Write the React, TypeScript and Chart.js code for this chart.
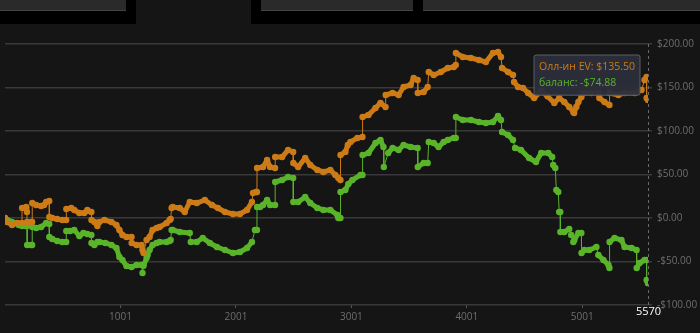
import React, { useEffect, useRef } from "react";
import { Chart, registerables, Tooltip } from "chart.js";

Chart.register(...registerables);

const SERIES_LABELS = ["Олл-ин EV", "баланс"];
const X_TICKS = [1001, 2001, 3001, 4001, 5001];
const X_MIN = 1;
const X_MAX = 5570;
const Y_MIN = -100;
const Y_MAX = 200;
const Y_STEP = 50;

const evHands = [
  1, 18, 62, 105, 148, 149, 184, 191, 192, 227, 236, 237, 271, 314, 340, 358, 384, 385, 410, 453, 497, 531, 532, 575, 601,
  645, 688, 714, 749, 750, 775, 801, 818, 862, 923, 966, 992, 1018, 1053, 1097, 1098, 1140, 1184, 1192, 1201, 1227, 1253,
  1279, 1314, 1340, 1401, 1427, 1436, 1444, 1453, 1514, 1558, 1601, 1662, 1732, 1793, 1845, 1906, 1975, 2036, 2097, 2140,
  2149, 2175, 2183, 2184, 2236, 2271, 2297, 2340, 2341, 2401, 2453, 2497, 2498, 2540, 2601, 2645, 2706, 2758, 2819, 2862,
  2888, 2906, 2907, 2949, 2970, 2993, 3053, 3097, 3098, 3149, 3210, 3253, 3297, 3298, 3358, 3410, 3453, 3514, 3540, 3575,
  3576, 3627, 3662, 3671, 3714, 3775, 3836, 3888, 3905, 3906, 3966, 4036, 4105, 4166, 4227, 4271, 4297, 4306, 4358, 4401,
  4410, 4445, 4488, 4532, 4584, 4645, 4700, 4758, 4801, 4845, 4888, 4923, 4930, 4949, 4967, 4993, 5010, 5080, 5140, 5149,
  5193, 5236, 5237, 5314, 5367, 5454, 5514, 5540, 5557, 5558, 5570,
];
const evValues = [
  0, -4.6, -8.0, -5.7, -5.7, 11.5, 12.6, 6.9, -4.6, -4.6, -4.6, 17.2, 14.9, 13.8, 14.9, 18.4, 19.5, 1.1, 0, -1.1, -2.3,
  -2.3, 10.3, 11.5, 9.2, 5.7, 5.7, 9.2, 6.9, -2.3, -4.6, -9.2, -4.6, -2.3, -4.6, -8.0, -13.8, -19.5, -21.8, -21.8, -28.7,
  -31, -31, -36.8, -40.2, -25.3, -21.8, -13.8, -11.5, -10.3, -5.7, -2.3, -1.1, 11.5, 12.6, 11.5, 6.9, 18.4, 17.2, 20.7,
  14.9, 11.5, 6.9, 4.6, 4.6, 9.2, 18.4, 28.7, 29.9, 29.9, 57.5, 58.6, 66.7, 58.6, 57.5, 70.1, 70.1, 78.2, 75.9, 63.2,
  58.6, 69, 60.9, 55.2, 52.9, 55.2, 49.4, 46, 43.7, 72.4, 76, 84, 87.4, 92, 93.1, 116.1, 118.4, 126.4, 132.2, 127.6,
  141.4, 143.7, 141.4, 150.6, 152.9, 160.9, 158.6, 143.7, 144.8, 150.6, 167.8, 164.4, 167.8, 172.4, 173.6, 175.9, 189.7,
  185.1, 183.9, 181.6, 179.3, 189.7, 190.8, 185.1, 172.4, 167.8, 164.4, 156.3, 150.6, 149.4, 143.7, 137.9, 146, 140,
  132.2, 137.9, 133.3, 127.6, 121.8, 120.7, 127.6, 133.3, 139.1, 143.7, 143.7, 143.7, 137.9, 133.3, 129.9, 143.7, 141.4,
  143.7, 143.7, 147.1, 158.6, 162.1, 137.9, 135.5,
];

const balHands = [
  1, 62, 120, 149, 175, 192, 193, 227, 236, 237, 271, 314, 358, 384, 385, 410, 453, 497, 531, 532, 566, 601, 645, 680,
  714, 749, 750, 775, 801, 818, 870, 923, 966, 992, 1018, 1053, 1097, 1140, 1184, 1192, 1201, 1227, 1236, 1253, 1279,
  1314, 1340, 1401, 1427, 1436, 1444, 1453, 1514, 1601, 1610, 1662, 1714, 1775, 1836, 1906, 1975, 2036, 2097, 2140, 2166,
  2183, 2184, 2210, 2236, 2271, 2297, 2340, 2341, 2401, 2453, 2497, 2498, 2540, 2601, 2645, 2706, 2758, 2819, 2880, 2888,
  2906, 2907, 2949, 2975, 3010, 3080, 3097, 3098, 3149, 3210, 3253, 3279, 3282, 3320, 3358, 3410, 3453, 3514, 3575, 3576,
  3627, 3662, 3671, 3714, 3756, 3800, 3836, 3888, 3905, 3906, 3966, 4036, 4105, 4166, 4227, 4271, 4297, 4306, 4358, 4401,
  4419, 4470, 4540, 4600, 4645, 4706, 4740, 4749, 4767, 4776, 4793, 4801, 4810, 4811, 4845, 4888, 4905, 4923, 4932, 4967,
  4993, 4994, 5019, 5062, 5123, 5140, 5184, 5228, 5236, 5237, 5280, 5340, 5367, 5428, 5471, 5472, 5497, 5540, 5557, 5558,
  5570,
];
const balValues = [
  0, -4.6, -8.0, -9.2, -9.2, -9.2, -31, -31, -31, -10.3, -11.5, -10.3, -5.7, -6.9, -21.8, -24.1, -26.4, -27.6, -27.6,
  -14.9, -14.9, -13.8, -20.7, -17.2, -18.4, -19.5, -28.7, -31, -27.6, -27.6, -28.7, -31, -34.5, -44.8, -48.3, -55.2,
  -56.3, -54, -54, -63.2, -55, -46, -42.5, -36.8, -31, -28.7, -27.6, -27.6, -26.4, -25.3, -13.8, -13.8, -16.1, -17.2,
  -27.6, -27.6, -23, -28.7, -33.3, -36.8, -40.2, -39.1, -34.5, -27.6, -13.8, -13.8, 12.6, 12.6, 14.9, 20.7, 14.9, 14.9,
  41.4, 43.7, 47.1, 46, 18.4, 18.4, 24.1, 17.2, 11.5, 9.2, 9.2, 3.4, 0, 0, 29.9, 32.2, 39, 43.7, 49.4, 49.4, 72.4, 74.7,
  86.2, 89.7, 81.6, 58.6, 74.7, 80.5, 78.2, 83.9, 81.6, 80.5, 58.6, 63.2, 63.2, 87.4, 86.2, 81.6, 87.4, 89.7, 92, 92,
  116.1, 112.6, 112.6, 110.3, 109.2, 110.3, 117.2, 112.6, 98.8, 95.4, 89.7, 80.5, 78.2, 69, 64.4, 74.7, 74.7, 70.1, 60.9,
  57.5, 32.2, 29.9, 6.9, 6.9, -16.1, -16.1, -12.6, -19.5, -27.6, -25.3, -17.2, -17.2, -40.2, -36.8, -36.8, -33.3, -42.5,
  -48.3, -54, -57.5, -27.6, -23, -25.3, -33.3, -34.5, -36.8, -57.5, -51.7, -48.3, -48.3, -71.3, -74.88,
];

const EV_COLOR = "#cc7b16";
const BAL_COLOR = "#5ab42a";

const fmtMoney = (v: number) => (v < 0 ? "-" : "") + "$" + Math.abs(v).toFixed(2);

(Tooltip.positioners as any).cornerTopRight = function () {
  const ca = (this as any).chart.chartArea;
  return { x: ca.right - 10, y: ca.top + 11 };
};

const crosshairPlugin = {
  id: "crosshair",
  afterDatasetsDraw(chart: any) {
    const { ctx, chartArea, scales } = chart;
    const lastHand = evHands[evHands.length - 1];
    const x = Math.round(scales.x.getPixelForValue(lastHand)) + 0.5;
    ctx.save();
    ctx.strokeStyle = "#6a6a6a";
    ctx.lineWidth = 1;
    ctx.setLineDash([3, 3]);
    ctx.beginPath();
    ctx.moveTo(x, chartArea.top);
    ctx.lineTo(x, chartArea.bottom);
    ctx.stroke();
    ctx.setLineDash([]);
    ctx.fillStyle = "#ffffff";
    ctx.font = "11px 'Open Sans', sans-serif";
    ctx.textAlign = "center";
    ctx.textBaseline = "middle";
    ctx.fillText(String(lastHand), x, chartArea.bottom + 7);
    ctx.restore();
  },
};

function makeData(hands: number[], values: number[]) {
  return hands.map((h, i) => ({ x: h, y: values[i] }));
}

export default function App() {
  const canvasRef = useRef<HTMLCanvasElement | null>(null);

  useEffect(() => {
    if (!canvasRef.current) return;
    const segWidth = (ctx: any) => {
      const dx = Math.abs(ctx.p1.x - ctx.p0.x);
      const dy = Math.abs(ctx.p1.y - ctx.p0.y);
      return dy > 6 && dy > dx * 3 ? 1 : 5;
    };
    const ds = (label: string, hands: number[], values: number[], color: string) => ({
      label,
      data: makeData(hands, values),
      borderColor: color,
      backgroundColor: color,
      pointBackgroundColor: color,
      pointBorderWidth: 0,
      pointRadius: 3.2,
      pointHoverRadius: 3.2,
      borderWidth: 5,
      borderCapStyle: "round",
      borderJoinStyle: "round",
      tension: 0,
      segment: { borderWidth: segWidth },
    });
    const chart = new Chart(canvasRef.current, {
      type: "line",
      data: {
        datasets: [
          ds(SERIES_LABELS[0], evHands, evValues, EV_COLOR),
          ds(SERIES_LABELS[1], balHands, balValues, BAL_COLOR),
        ] as any,
      },
      options: {
        animation: false,
        responsive: true,
        maintainAspectRatio: false,
        events: [],
        layout: { padding: { left: 5, top: 20, right: 0, bottom: 0 } },
        plugins: {
          legend: { display: false },
          title: { display: false },
          tooltip: {
            enabled: true,
            position: "cornerTopRight" as any,
            xAlign: "right",
            yAlign: "top",
            caretSize: 0,
            caretPadding: 0,
            cornerRadius: 2,
            displayColors: false,
            backgroundColor: "rgba(44,47,58,0.96)",
            borderColor: "#5a5e6a",
            borderWidth: 1,
            padding: { left: 5, right: 5, top: 6, bottom: 6 },
            bodySpacing: 3,
            bodyFont: { family: "'Open Sans', sans-serif", size: 10.5 },
            callbacks: {
              title: () => "",
              label: (c: any) => `${c.dataset.label}: ${fmtMoney(c.parsed.y)}`,
              labelTextColor: (c: any) => c.dataset.borderColor,
            },
          },
        },
        scales: {
          x: {
            type: "linear",
            min: X_MIN,
            max: X_MAX,
            afterBuildTicks: (s: any) => {
              s.ticks = X_TICKS.map((v) => ({ value: v }));
            },
            afterFit: (s: any) => {
              s.height = 28;
            },
            border: { display: false },
            grid: { drawOnChartArea: false, drawTicks: true, tickLength: 3, color: "#555" },
            ticks: {
              color: "#6e6e6e",
              font: { family: "'Open Sans', sans-serif", size: 10 },
              padding: 3,
              maxRotation: 0,
              autoSkip: false,
              callback: (v: any) => String(v),
            },
          },
          y: {
            position: "right",
            min: Y_MIN,
            max: Y_MAX,
            afterFit: (s: any) => {
              s.width = 52;
            },
            border: { display: false },
            grid: { color: "#393939", lineWidth: 1.5, drawTicks: true, tickLength: 4 },
            ticks: {
              stepSize: Y_STEP,
              color: "#6e6e6e",
              font: { family: "'Open Sans', sans-serif", size: 10 },
              padding: 5,
              callback: (v: any) => fmtMoney(Number(v)),
            },
          },
        },
      },
      plugins: [crosshairPlugin],
    });
    const last0 = evHands.length - 1;
    const last1 = balHands.length - 1;
    chart.tooltip!.setActiveElements(
      [
        { datasetIndex: 0, index: last0 },
        { datasetIndex: 1, index: last1 },
      ],
      { x: 0, y: 0 }
    );
    chart.update();
    return () => chart.destroy();
  }, []);

  const bar = (left: number, width: number) => (
    <div
      style={{
        position: "absolute",
        left,
        top: 0,
        width,
        height: 10,
        background: "#2a2a2a",
        borderBottom: "1px solid #444",
      }}
    />
  );

  return (
    <div
      style={{
        position: "fixed",
        left: 0,
        top: 0,
        width: 700,
        height: 333,
        background: "#151515",
        overflow: "hidden",
      }}
    >
      <div style={{ position: "absolute", left: 0, top: 0, width: 136, height: 24, background: "#000" }} />
      <div style={{ position: "absolute", left: 251, top: 0, width: 449, height: 24, background: "#000" }} />
      {bar(0, 126)}
      {bar(261, 152)}
      {bar(423, 277)}
      <div style={{ position: "absolute", left: 0, top: 24, width: 700, height: 309 }}>
        <canvas ref={canvasRef} />
      </div>
    </div>
  );
}
